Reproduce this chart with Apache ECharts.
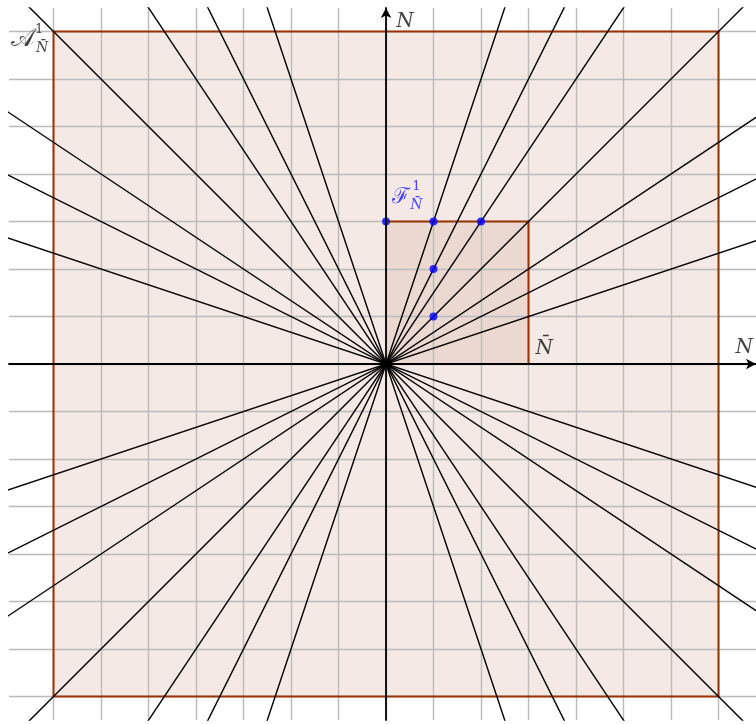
<!DOCTYPE html>
<html style="height: 100%">
<head>
  <meta charset="UTF-8">
  <title>Lattice directions</title>
  <script src="https://cdn.jsdelivr.net/npm/echarts@6/dist/echarts.min.js"></script>
  <style>
    html, body {
      margin: 0;
      height: 100%;
      width: 100%;
      background: #fff;
    }
    #main { width: 756px; height: 724px; }
  </style>
</head>
<body>
  <div id="main"></div>
  <script>
    // visible window in grid units
    const xRange = [-7.937, 7.789];
    const yRange = [-7.495, 7.495];

    // integer grid lines
    const gridTicks = [-7, -6, -5, -4, -3, -2, -1, 0, 1, 2, 3, 4, 5, 6, 7];

    // big square A and small square F  [xmin, ymin, xmax, ymax]
    const bigSquare = [-7, -7, 7, 7];
    const smallSquare = [0, 0, 3, 3];

    // ray directions through the origin (run, rise)
    const directions = [
      [1, 3], [1, 2], [2, 3], [1, 1], [3, 2], [2, 1], [3, 1],
      [-1, 3], [-1, 2], [-2, 3], [-1, 1], [-3, 2], [-2, 1], [-3, 1]
    ];

    // the blue points of F
    const bluePoints = [[0, 3], [1, 3], [2, 3], [1, 2], [1, 1]];

    // text labels: [x, y, text, size, color, style]
    const labels = [
      [7.54, 0.34, 'N', 20, '#111', 'italic'],
      [0.40, 7.20, 'N', 20, '#111', 'italic'],
      [3.33, 0.32, 'N\u0304', 20, '#111', 'italic'],
      [-7.64, 6.84, '\u{1D49C}', 25, '#111', 'normal'],
      [-7.30, 7.03, '1', 13, '#111', 'normal'],
      [-7.24, 6.64, 'N\u0304', 14, '#111', 'italic'],
      [0.32, 3.52, '\u2131', 22, '#1a1aff', 'normal'],
      [0.64, 3.73, '1', 13, '#1a1aff', 'normal'],
      [0.64, 3.33, 'N\u0304', 14, '#1a1aff', 'italic']
    ];

    const chart = echarts.init(document.getElementById('main'));

    const rays = directions.map(function (d) {
      const k = 10;
      return {
        type: 'line',
        z: 6,
        silent: true,
        symbol: 'none',
        clip: true,
        lineStyle: { color: '#000', width: 1.4 },
        data: [[-k * d[0], -k * d[1]], [k * d[0], k * d[1]]]
      };
    });

    function rectOutline(r) {
      return [[r[0], r[1]], [r[2], r[1]], [r[2], r[3]], [r[0], r[3]], [r[0], r[1]]];
    }

    const axisCommon = {
      type: 'value',
      z: 10,
      splitLine: { show: false },
      axisTick: { show: false },
      axisLabel: { show: false },
      axisLine: {
        show: true,
        onZero: true,
        symbol: ['none', 'arrow'],
        symbolSize: [8, 10],
        lineStyle: { color: '#000', width: 1.8 }
      }
    };

    chart.setOption({
      animation: false,
      grid: { left: 9, right: 0, top: 8, bottom: 4 },
      xAxis: Object.assign({ min: xRange[0], max: xRange[1] }, axisCommon),
      yAxis: Object.assign({ min: yRange[0], max: yRange[1] }, axisCommon),
      series: [
        {
          // fills of both squares
          type: 'line',
          z: 1,
          silent: true,
          data: [],
          markArea: {
            silent: true,
            z: 1,
            data: [
              [
                { coord: [bigSquare[0], bigSquare[3]], itemStyle: { color: '#f5e9e6', opacity: 1 } },
                { coord: [bigSquare[2], bigSquare[1]] }
              ],
              [
                { coord: [smallSquare[0], smallSquare[3]], itemStyle: { color: '#ebd8d0', opacity: 1 } },
                { coord: [smallSquare[2], smallSquare[1]] }
              ]
            ]
          }
        },
        {
          // grey unit grid
          type: 'line',
          z: 2,
          silent: true,
          data: [],
          markLine: {
            silent: true,
            z: 2,
            symbol: 'none',
            label: { show: false },
            lineStyle: { color: '#bababa', width: 1.4, type: 'solid' },
            data: gridTicks.map(v => ({ xAxis: v }))
              .concat(gridTicks.map(v => ({ yAxis: v })))
          }
        },
        {
          type: 'line',
          z: 4,
          silent: true,
          symbol: 'none',
          lineStyle: { color: '#993300', width: 2 },
          data: rectOutline(bigSquare)
        },
        {
          type: 'line',
          z: 4,
          silent: true,
          symbol: 'none',
          lineStyle: { color: '#993300', width: 2 },
          data: [[smallSquare[0], smallSquare[3]], [smallSquare[2], smallSquare[3]], [smallSquare[2], smallSquare[1]]]
        }
      ].concat(rays).concat([
        {
          type: 'scatter',
          z: 7,
          silent: true,
          symbolSize: 8,
          itemStyle: { color: '#0000ff' },
          data: bluePoints
        },
        {
          type: 'scatter',
          z: 8,
          silent: true,
          symbolSize: 0,
          data: labels.map(l => ({
            value: [l[0], l[1]],
            label: {
              show: true,
              position: 'inside',
              formatter: l[2],
              fontSize: l[3],
              color: l[4],
              fontStyle: l[5],
              fontFamily: 'DejaVu Serif, Liberation Serif, serif'
            }
          }))
        }
      ])
    });
  </script>
</body>
</html>
